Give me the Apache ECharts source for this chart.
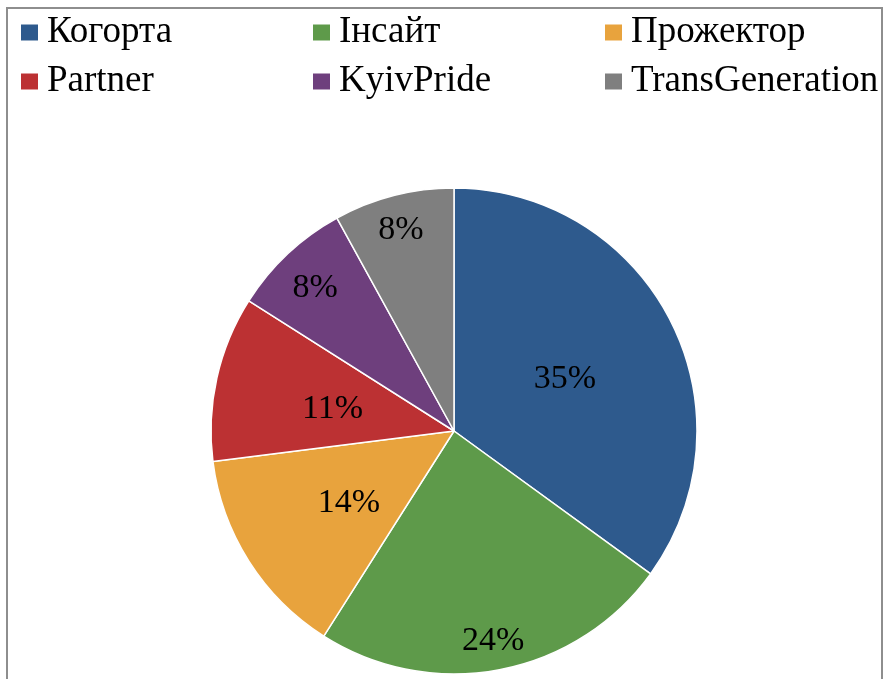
<!DOCTYPE html>
<html>
<head>
<meta charset="utf-8">
<script src="https://cdn.jsdelivr.net/npm/echarts@6/dist/echarts.min.js"></script>
<style>
html,body{margin:0;padding:0;background:#fff;}
#c{width:886px;height:679px;}
</style>
</head>
<body>
<div id="c"></div>
<script>
const categories = ['Когорта', 'Інсайт', 'Прожектор', 'Partner', 'KyivPride', 'TransGeneration'];
const shares = [35, 24, 14, 11, 8, 8];
const colors = ['#2E5A8D', '#5E9A4A', '#E8A33D', '#BC3133', '#6E3F7D', '#7F7F7F'];

// labels that the reference places further out, with the ring radius used to place them
const outerLabelRing = {'Інсайт': 412, 'KyivPride': 400, 'TransGeneration': 420};

const FONT = "'Liberation Serif', 'Times New Roman', serif";
const chart = echarts.init(document.getElementById('c'), null, {renderer: 'canvas'});

const legendPos = [
  {left: 21, top: 14}, {left: 313, top: 14}, {left: 605, top: 14},
  {left: 21, top: 63}, {left: 313, top: 63}, {left: 605, top: 63}
];

const legends = categories.map((name, i) => ({
  data: [name],
  left: legendPos[i].left,
  top: legendPos[i].top,
  padding: 0,
  icon: 'rect',
  itemWidth: 17,
  itemHeight: 16,
  selectedMode: false,
  itemStyle: {borderWidth: 0},
  textStyle: {fontFamily: FONT, fontSize: 37, color: '#000', padding: [0, 0, 0, 4]}
}));

const labelStyle = {
  position: 'inside', formatter: '{c}%', fontFamily: FONT, fontSize: 34, color: '#000'
};

const mainData = categories.map((n, i) => ({
  name: n, value: shares[i],
  itemStyle: {color: colors[i]},
  label: {show: !(n in outerLabelRing)}
}));

const series = [{
  type: 'pie',
  center: [454, 431],
  radius: [0, 243],
  startAngle: 90,
  clockwise: true,
  itemStyle: {borderColor: '#fff', borderWidth: 1.5},
  label: labelStyle,
  labelLine: {show: false},
  labelLayout: {dy: 5},
  emphasis: {disabled: true},
  data: mainData
}];

Object.keys(outerLabelRing).forEach(target => {
  series.push({
    type: 'pie',
    center: [454, 431],
    radius: [0, outerLabelRing[target]],
    startAngle: 90,
    clockwise: true,
    silent: true,
    z: 3,
    itemStyle: {color: 'rgba(0,0,0,0)', borderWidth: 0},
    label: labelStyle,
    labelLine: {show: false},
    labelLayout: {dy: 5},
    emphasis: {disabled: true},
    data: categories.map((n, i) => ({name: n, value: shares[i], label: {show: n === target}}))
  });
});

chart.setOption({
  animation: false,
  backgroundColor: '#fff',
  legend: legends,
  graphic: [{
    type: 'rect',
    shape: {x: 7, y: 8, width: 875, height: 700},
    style: {fill: 'none', stroke: '#8e8e8e', lineWidth: 2},
    silent: true
  }],
  series: series
});
</script>
</body>
</html>
